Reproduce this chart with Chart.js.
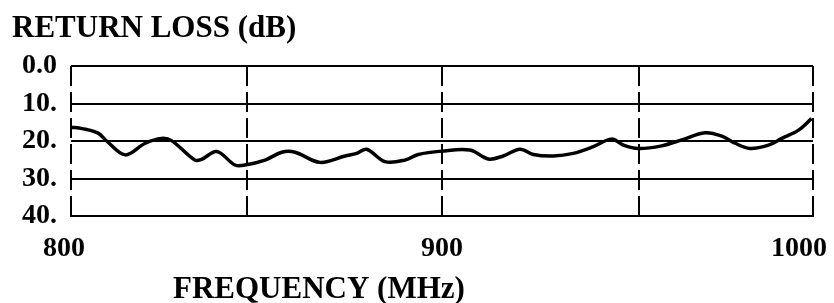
<!DOCTYPE html>
<html>
<head>
<meta charset="utf-8">
<script src="https://cdn.jsdelivr.net/npm/chart.js@4"></script>
<style>
    body { margin: 0; background: #fff; }
    #wrap { position: relative; width: 834px; height: 303px; }
</style>
</head>
<body>
<div id="wrap"><canvas id="grafico"></canvas></div>
<script>
// valores
const frecuencias = [800, 803, 807.3, 809.6, 814.6, 820, 824.4, 827.1, 833.4, 835.2, 839.3, 844.2, 846.9,
    852.3, 856.8, 860.4, 867.1, 873.9, 877, 879.7, 884.6, 890, 893.6, 899.9, 907.5, 912.5, 916.5,
    921, 924.6, 930, 935.4, 940.8, 945.7, 948.9, 952.9, 959.2, 964.6, 970.9, 975.4, 979, 983,
    988, 991.6, 996.1, 999.6];
const perdidas = [16.3, 16.7, 17.9, 20.0, 23.7, 20.6, 19.3, 19.9, 25.1, 24.9, 22.8, 26.4, 26.4,
    25.1, 23.0, 23.0, 25.7, 24.0, 23.3, 22.2, 25.5, 25.1, 23.6, 22.7, 22.4, 24.8, 24.0,
    22.2, 23.6, 24.0, 23.3, 21.5, 19.5, 21.1, 22.0, 21.3, 19.7, 17.8, 18.7, 20.6, 22.0,
    21.1, 19.3, 17.1, 14.0];
const xTicks = [800, 847.5, 900, 953, 1000];
const xTickLabels = ['800  ', '', '900', '', '1000    '];
const yTicks = [0, 10, 20, 30, 40];
const yTickLabels = ['0.0', '10.', '20.', '30.', '40.'];
const tituloY = 'RETURN LOSS (dB)';
const tituloX = 'FREQUENCY (MHz)';

const fuente = '"Liberation Serif", "Times New Roman", serif';

const titulos = {
    id: 'titulos',
    afterDraw(chart) {
        const ctx = chart.ctx;
        ctx.save();
        ctx.fillStyle = '#000';
        ctx.font = 'bold 31px ' + fuente;
        ctx.textBaseline = 'alphabetic';
        ctx.textAlign = 'left';
        ctx.fillText(tituloY, 12, 37);
        ctx.fillText(tituloX, 173, 298);
        ctx.restore();
    }
};

const ctx = document.getElementById('grafico').getContext('2d');
new Chart(ctx, {
    type: 'line',
    data: {
        datasets: [{
            data: frecuencias.map((f, i) => ({ x: f, y: perdidas[i] })),
            borderColor: '#000',
            borderWidth: 3.5,
            pointRadius: 0,
            tension: 0.35,
            fill: false
        }]
    },
    options: {
        responsive: true,
        maintainAspectRatio: false,
        animation: false,
        layout: { padding: { top: 66, right: 21, left: 0, bottom: 0 } },
        plugins: { legend: { display: false }, tooltip: { enabled: false } },
        scales: {
            x: {
                type: 'linear',
                min: 800,
                max: 1000,
                afterBuildTicks: s => { s.ticks = xTicks.map(v => ({ value: v })); },
                afterFit: s => { s.height = 87; s.paddingLeft = 0; s.paddingRight = 0; },
                ticks: {
                    autoSkip: false,
                    maxRotation: 0,
                    padding: 16,
                    color: '#000',
                    font: { family: fuente, size: 28, weight: 'bold' },
                    callback: (v, i) => xTickLabels[i]
                },
                grid: { color: '#000', lineWidth: 2, drawTicks: false },
                border: { display: true, color: '#000', width: 2, dash: [20, 6] }
            },
            y: {
                type: 'linear',
                reverse: true,
                min: 0,
                max: 40,
                afterBuildTicks: s => { s.ticks = yTicks.map(v => ({ value: v })); },
                afterFit: s => { s.width = 71; s.paddingTop = 0; s.paddingBottom = 0; },
                ticks: {
                    padding: 14,
                    color: '#000',
                    font: { family: fuente, size: 28, weight: 'bold' },
                    callback: (v, i) => yTickLabels[i]
                },
                grid: { color: '#000', lineWidth: 2, drawTicks: false },
                border: { display: false }
            }
        }
    },
    plugins: [titulos]
});
</script>
</body>
</html>
